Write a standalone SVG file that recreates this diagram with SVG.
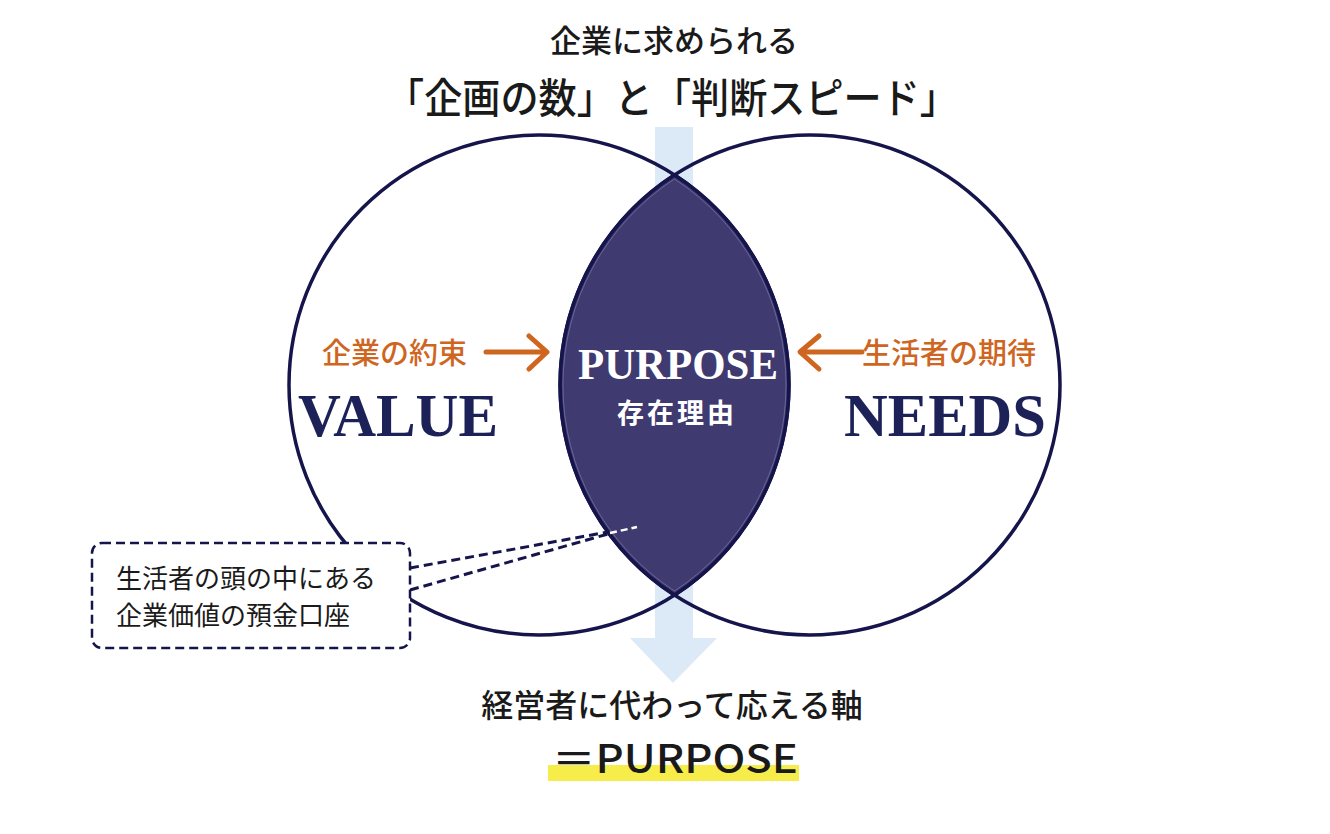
<svg xmlns="http://www.w3.org/2000/svg" width="1330" height="834" viewBox="0 0 1330 834">
<style>
.jp{font-family:"Noto Sans CJK JP","Noto Sans",sans-serif;}
.ttl{fill:#1a1a1a;font-weight:500;}
.ring{fill:none;stroke:#16154b;stroke-width:3.5;}
.big{font-family:"Liberation Serif",serif;font-weight:bold;fill:#1c2157;}
.org{fill:#cf661f;font-weight:500;}
.oarr{fill:none;stroke:#cf661f;stroke-width:5;stroke-linecap:round;stroke-linejoin:round;}
.dash{fill:none;stroke:#16154b;stroke-width:3;stroke-dasharray:9 5;}
</style>
<rect width="1330" height="834" fill="#ffffff"/>
<g id="title">
<text class="jp ttl" x="674" y="52" font-size="31" text-anchor="middle">企業に求められる</text>
<text class="jp ttl" x="672" y="113" font-size="41" text-anchor="middle" textLength="572" lengthAdjust="spacingAndGlyphs">「企画の数」と「判断スピード」</text>
</g>
<g id="flow-arrow">
<rect x="655" y="127" width="38" height="512" fill="#dce9f6"/>
<polygon points="630,638 717,638 673,683" fill="#dce9f6"/>
</g>
<g id="value">
<circle class="ring" cx="539" cy="385" r="250"/>
<text class="big" x="298" y="436" font-size="62" textLength="200" lengthAdjust="spacingAndGlyphs">VALUE</text>
</g>
<g id="needs">
<circle class="ring" cx="810" cy="385" r="250"/>
<text class="big" x="844" y="436" font-size="62" textLength="202" lengthAdjust="spacingAndGlyphs">NEEDS</text>
</g>
<g id="purpose">
<path d="M674.5 175 A250 250 0 0 1 674.5 595 A250 250 0 0 1 674.5 175 Z" fill="#3f3a6f" stroke="#16154b" stroke-width="3.5"/>
<path d="M674.5 179 A246 246 0 0 1 674.5 591 A246 246 0 0 1 674.5 179 Z" fill="none" stroke="#8c89b3" stroke-width="0.8" opacity="0.7"/>
<text x="678" y="379" font-family="Liberation Serif,serif" font-weight="bold" font-size="44" fill="#ffffff" text-anchor="middle" textLength="200" lengthAdjust="spacingAndGlyphs">PURPOSE</text>
<text class="jp" x="677" y="423" font-size="27" font-weight="bold" fill="#ffffff" text-anchor="middle" letter-spacing="3">存在理由</text>
</g>
<g id="connectors">
<path class="oarr" d="M486 352 H546 M529 336 L547 352 L529 369"/>
<path class="oarr" d="M862 352 H801 M819 336 L800 352 L819 369"/>
<path class="dash" d="M410 568 L608 532"/>
<path class="dash" d="M410 590 L608 534"/>
<path d="M610 533 L637 527" fill="none" stroke="#ffffff" stroke-width="2.5" stroke-dasharray="7 4"/>
</g>
<g id="promise">
<text class="jp org" x="322" y="364" font-size="29">企業の約束</text>
</g>
<g id="expectation">
<text class="jp org" x="862" y="364" font-size="29">生活者の期待</text>
</g>
<g id="callout">
<rect x="92" y="543" width="318" height="105" rx="10" fill="#ffffff" stroke="#16154b" stroke-width="2.5" stroke-dasharray="9 5"/>
<text class="jp" x="116" y="588" font-size="26" fill="#1a1a1a">生活者の頭の中にある</text>
<text class="jp" x="116" y="625" font-size="26" fill="#1a1a1a">企業価値の預金口座</text>
</g>
<g id="conclusion">
<text class="jp ttl" x="672" y="717" font-size="32" text-anchor="middle">経営者に代わって応える軸</text>
<rect x="548" y="765" width="251" height="16" fill="#f6ec4a"/>
<text class="jp ttl" x="552" y="773" font-size="39" textLength="246" lengthAdjust="spacingAndGlyphs">＝PURPOSE</text>
</g>
</svg>
